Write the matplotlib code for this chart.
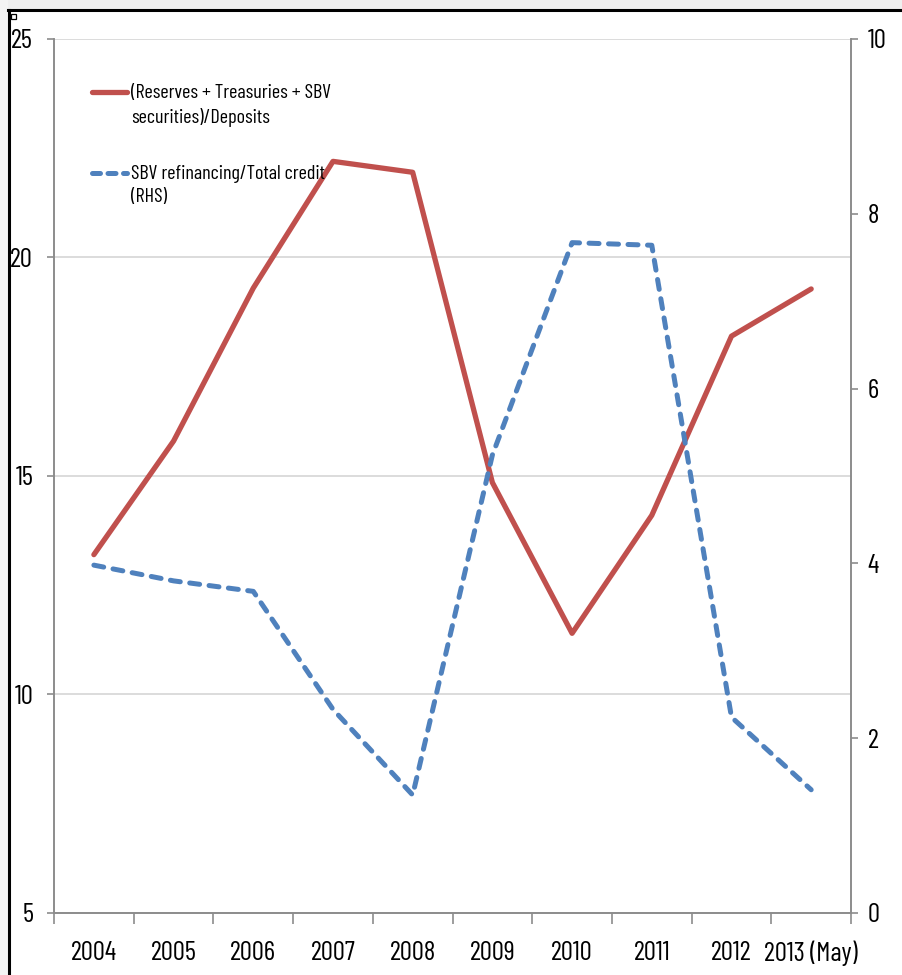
import matplotlib.pyplot as plt
from matplotlib.lines import Line2D
from matplotlib.patches import Rectangle

plt.rcParams["font.family"] = ["Barlow Condensed", "DejaVu Sans"]

years = ["2004", "2005", "2006", "2007", "2008", "2009", "2010", "2011", "2012", "2013 (May)"]
liquid_ratio = [13.2, 15.8, 19.3, 22.2, 21.95, 14.85, 11.4, 14.1, 18.2, 19.28]
refinancing_ratio = [3.98, 3.8, 3.68, 2.33, 1.35, 5.24, 7.67, 7.64, 2.24, 1.41]

left_ticks = [5, 10, 15, 20, 25]
right_ticks = [0, 2, 4, 6, 8, 10]

RED = "#C0504D"
BLUE = "#4F81BD"
GRID = "#D9D9D9"
SPINE = "#8C8C8C"
DASH = (2.0, 1.9)

fig = plt.figure(figsize=(9.02, 9.75), dpi=100)
ax = fig.add_axes([0.0599, 0.0636, 0.8836, 0.8964])
ax2 = ax.twinx()

x = list(range(len(years)))
ax.plot(x, liquid_ratio, color=RED, lw=3.8, solid_capstyle="round", zorder=3)
ax2.plot(x, refinancing_ratio, color=BLUE, lw=3.6, dashes=DASH,
         dash_capstyle="round", zorder=3)

ax.set_xlim(-0.5, len(years) - 0.5)
ax.set_ylim(5, 25)
ax2.set_ylim(0, 10)
ax.set_yticks(left_ticks)
ax2.set_yticks(right_ticks)
ax.set_xticks(x)
ax.set_xticklabels(years)
ax.set_xticks([i - 0.5 for i in range(len(years) + 1)], minor=True)

for a in (ax, ax2):
    a.spines["top"].set_visible(False)
    for side in ("left", "right", "bottom"):
        a.spines[side].set_color(SPINE)
        a.spines[side].set_linewidth(1.2)

ax.grid(axis="y", color=GRID, lw=1.3)
ax.set_axisbelow(True)
ax.tick_params(axis="x", which="major", length=0, pad=20, labelsize=19.5)
ax.tick_params(axis="x", which="minor", length=8, color=SPINE, width=1.2)
ax.tick_params(axis="y", length=5, color=SPINE, width=1.2, pad=10, labelsize=19.5)
ax2.tick_params(axis="y", length=5, color=SPINE, width=1.2, pad=7, labelsize=19.5)

# legend drawn by hand so each marker sits on the first text line
ax.add_line(Line2D([0.048, 0.091], [0.939, 0.939], transform=ax.transAxes,
                   color=RED, lw=3.8, solid_capstyle="round"))
ax.text(0.097, 0.948, "(Reserves + Treasuries + SBV\nsecurities)/Deposits",
        transform=ax.transAxes, fontsize=14.5, va="top", ha="left",
        linespacing=1.35)
ax.add_line(Line2D([0.048, 0.091], [0.847, 0.847], transform=ax.transAxes,
                   color=BLUE, lw=3.6, dashes=(1.6, 1.5), dash_capstyle="round"))
ax.text(0.097, 0.856, "SBV refinancing/Total credit\n(RHS)",
        transform=ax.transAxes, fontsize=14.5, va="top", ha="left",
        linespacing=1.35)

# outer frame and grey margin
fig.patch.set_facecolor("white")
fig.add_artist(Rectangle((0, 1 - 10 / 975), 1, 10 / 975, transform=fig.transFigure,
                         facecolor="#EFEFEF", edgecolor="none", zorder=0))
fig.add_artist(Rectangle((0, 0), 8 / 902, 1, transform=fig.transFigure,
                         facecolor="#F4F4F4", edgecolor="none", zorder=0))
fig.add_artist(Line2D([9 / 902, 9 / 902], [0, 1 - 10 / 975], transform=fig.transFigure,
                      color="black", lw=2.2))
fig.add_artist(Line2D([8 / 902, 1], [1 - 10 / 975, 1 - 10 / 975], transform=fig.transFigure,
                      color="black", lw=2.2))
fig.add_artist(Rectangle((11 / 902, 1 - 19 / 975), 5 / 902, 5 / 975, transform=fig.transFigure,
                         facecolor="white", edgecolor="black", lw=0.9))

fig.savefig("out.png", dpi=100)
